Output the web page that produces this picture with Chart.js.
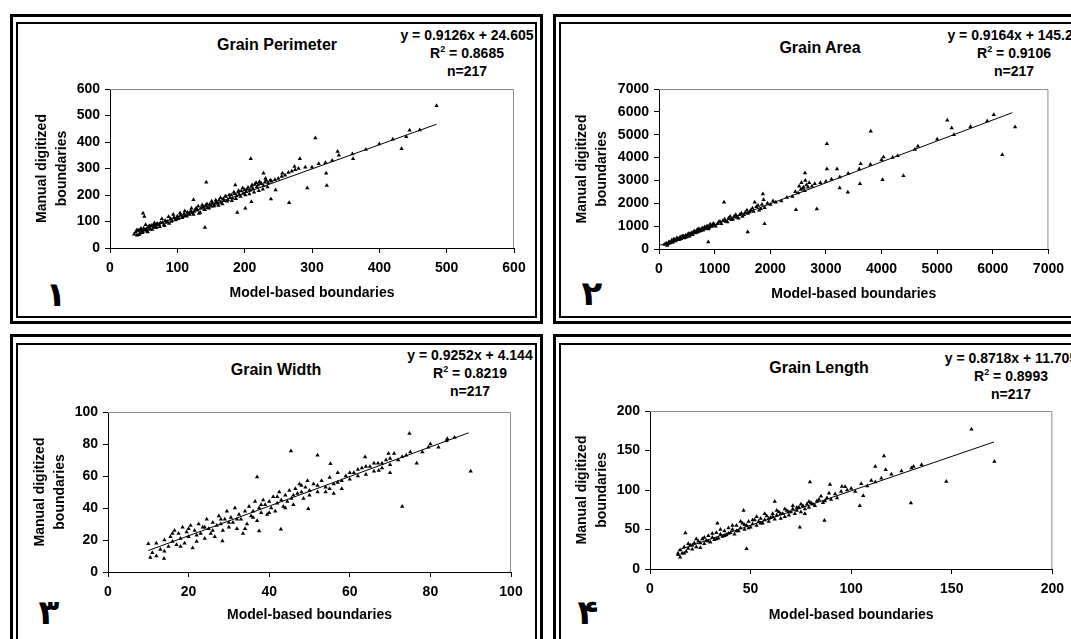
<!DOCTYPE html>
<html>
<head>
<meta charset="utf-8">
<title>Grain measurements</title>
<script src="https://cdn.jsdelivr.net/npm/chart.js@4.4.1/dist/chart.umd.min.js"></script>
<style>
    html, body { margin: 0; padding: 0; background: #fff; }
    body {
        position: relative;
        width: 1071px;
        height: 639px;
        overflow: hidden;
        font-family: 'Liberation Sans', Arial, sans-serif;
        color: #000;
    }
    .outer { position: absolute; border: 3px solid #000; box-sizing: border-box; }
    .inner { position: absolute; border: 2px solid #000; box-sizing: border-box; overflow: hidden; }
    .eq {
        position: absolute;
        width: 240px;
        text-align: center;
        white-space: nowrap;
        font-weight: bold;
        font-size: 14px;
        line-height: 18px;
    }
    .title {
        position: absolute;
        transform: translate(-50%, -50%);
        white-space: nowrap;
        font-weight: bold;
        font-size: 16px;
    }
    .tag {
        position: absolute;
        transform: translate(-50%, -50%);
        font-family: 'DejaVu Sans', sans-serif;
        font-weight: bold;
        font-size: 34px;
    }
    canvas { position: absolute; }
</style>
</head>
<body>

<!-- panel frames -->
<div class="outer" style="left:10px; top:14px; width:533px; height:310px;"></div>
<div class="inner" style="left:16px; top:22px; width:521px; height:296px;">
    <div class="eq" style="left:329px; top:2px;">y = 0.9126x + 24.605<br>R<sup style="font-size:9px; line-height:0">2</sup> = 0.8685<br>n=217</div>
</div>
<div class="outer" style="left:553px; top:14px; width:540px; height:310px;"></div>
<div class="inner" style="left:559px; top:22px; width:530px; height:296px;">
    <div class="eq" style="left:333px; top:2px;">y = 0.9164x + 145.27<br>R<sup style="font-size:9px; line-height:0">2</sup> = 0.9106<br>n=217</div>
</div>
<div class="outer" style="left:10px; top:334px; width:533px; height:330px;"></div>
<div class="inner" style="left:16px; top:343px; width:521px; height:320px;">
    <div class="eq" style="left:332px; top:1px;">y = 0.9252x + 4.144<br>R<sup style="font-size:9px; line-height:0">2</sup> = 0.8219<br>n=217</div>
</div>
<div class="outer" style="left:553px; top:334px; width:540px; height:330px;"></div>
<div class="inner" style="left:559px; top:343px; width:530px; height:320px;">
    <div class="eq" style="left:330px; top:4px;">y = 0.8718x + 11.705<br>R<sup style="font-size:9px; line-height:0">2</sup> = 0.8993<br>n=217</div>
</div>

<div class="title" style="left:277px; top:45px;">Grain Perimeter</div>
<div class="title" style="left:820px; top:48px;">Grain Area</div>
<div class="title" style="left:276px; top:370px;">Grain Width</div>
<div class="title" style="left:819px; top:368px;">Grain Length</div>

<div class="tag" style="left:56px; top:294px;">۱</div>
<div class="tag" style="left:592px; top:293px;">۲</div>
<div class="tag" style="left:49px; top:612px;">۳</div>
<div class="tag" style="left:588px; top:612px;">۴</div>

<canvas id="chart-perimeter" width="517" height="292" style="left:18px; top:24px;"></canvas>
<canvas id="chart-area" width="510" height="292" style="left:561px; top:24px;"></canvas>
<canvas id="chart-width" width="517" height="294" style="left:18px; top:345px;"></canvas>
<canvas id="chart-length" width="510" height="294" style="left:561px; top:345px;"></canvas>

<script>
    // ---- data: [model-based, manual digitized] ----

    const perimPoints = [
        [36,52],[38,60],[40,48],[42,66],[44,55],[45,70],[47,62],[48,58],[50,75],[52,68],
        [54,72],[55,64],[57,80],[58,74],[60,70],[62,85],[64,78],[65,90],[67,82],[68,76],
        [70,92],[72,88],[74,80],[75,95],[78,96],[80,88],[82,104],[85,100],[88,92],[90,110],
        [92,104],[95,115],[98,108],[100,120],[102,112],[105,125],[108,118],[110,128],[112,122],[115,135],
        [118,126],[120,140],[122,132],[125,138],[128,150],[130,142],[132,130],[135,150],[138,156],[140,146],
        [142,160],[145,152],[148,165],[150,158],[152,170],[155,162],[158,175],[160,168],[162,180],[165,172],
        [168,185],[170,178],[172,195],[175,182],[178,190],[180,200],[182,188],[185,205],[188,196],[190,210],
        [192,202],[195,215],[198,206],[200,220],[202,212],[205,228],[208,218],[210,232],[212,225],[215,240],
        [218,230],[220,238],[222,250],[225,242],[228,235],[230,248],[232,255],[235,245],[240,252],[245,258],
        [250,262],[255,270],[260,275],[265,285],[270,290],[275,295],[280,300],[290,305],[300,305],[310,318],
        [320,322],[330,330],[340,350],[360,355],[380,372],[400,392],[420,410],[440,420],[460,445],
        [40,68],[43,50],[46,74],[49,62],[53,88],[56,60],[59,84],[63,70],[66,94],[69,78],
        [73,90],[77,110],[81,84],[84,96],[87,118],[91,100],[94,126],[97,106],[101,110],[104,132],
        [107,114],[111,140],[114,120],[117,128],[121,150],[124,126],[127,146],[131,158],[134,134],[137,162],
        [141,144],[144,166],[147,150],[151,176],[154,158],[157,180],[161,160],[164,190],[167,166],[171,194],
        [174,176],[177,200],[181,178],[184,210],[187,186],[191,216],[194,194],[197,226],[201,200],[204,222],
        [207,204],[211,238],[214,210],[217,246],[221,216],[224,244],[227,222],[231,262],[234,230],[238,256],
        [485,537],[305,415],[433,375],[445,444],[209,337],[282,337],[338,364],[361,337],[321,282],[322,236],
        [293,226],[266,171],[239,185],[246,219],[228,282],[274,308],[256,282],[143,248],[124,182],[189,134],
        [201,150],[141,77],[51,119],[49,131],[210,175],[186,238]
    ];
    const perimTrend = [[35, 57], [485, 467]];
    const perimTicks = [0, 100, 200, 300, 400, 500, 600];

    const areaPoints = [
        [100,200],[150,150],[180,320],[200,260],[230,380],[250,300],[280,420],[300,350],[320,480],[350,400],
        [380,520],[400,450],[420,560],[450,480],[480,600],[500,520],[520,640],[550,560],[580,700],[600,620],
        [620,760],[650,700],[680,820],[700,740],[720,880],[750,800],[780,920],[800,850],[820,960],[850,900],
        [880,1000],[900,940],[920,1080],[950,980],[980,1120],[1000,1040],[1050,1100],[1100,1180],[1150,1240],[1200,1200],
        [1250,1350],[1300,1280],[1350,1420],[1400,1380],[1450,1500],[1500,1420],[1550,1600],[1600,1550],[1650,1700],[1700,1640],
        [1750,1850],[1800,1700],[1850,1950],[1900,1800],[1950,2000],[2000,1950],[2100,2050],[2200,2100],[2300,2250],[2400,2300],
        [2450,2500],[2500,2450],[2550,2600],[2600,2700],[2650,2800],[2700,2900],[2750,2750],[2800,2850],[2900,2900],[3000,2950],
        [3100,3050],[3250,3150],[3400,3300],[3600,3500],[3800,3700],[4000,3900],[4200,4000],[4600,4350],[5000,4800],[5300,5000],
        [5600,5350],[5900,5600],
        [130,250],[170,230],[220,300],[260,420],[290,360],[340,460],[370,420],[410,520],[440,560],[470,500],
        [510,580],[540,680],[570,620],[610,700],[640,780],[670,720],[700,860],[730,780],[760,880],[790,820],
        [830,920],[860,1000],[890,880],[930,1000],[960,1060],[1020,1000],[1080,1200],[1120,1100],[1180,1300],[1230,1180],
        [1280,1420],[1330,1300],[1380,1500],[1430,1350],[1480,1560],[1530,1500],[1580,1700],[1630,1620],[1680,1780],[1720,2050],
        [1780,1900],[1830,1760],[1880,2150],[2050,2100],[2520,2750],[2560,2900],[2580,2650],[2620,2550],[2680,2700],[2630,3000],
        [5182,5630],[6018,5877],[6400,5337],[6170,4127],[3806,5148],[3018,4608],[5261,5294],[4394,3208],[4018,3033],[3612,2858],
        [3394,2479],[3248,2669],[3200,3500],[3018,3500],[2836,1750],[2461,1721],[2624,3325],[1897,1108],[1594,744],[1170,2042],
        [1867,2406],[885,306],[3624,3733],[4036,4025],[4654,4492],[4291,4083]
    ];
    const areaTrend = [[20, 163], [6350, 5964]];
    const areaTicks = [0, 1000, 2000, 3000, 4000, 5000, 6000, 7000];

    const widthPoints = [
        [11,12],[12,18],[13,14],[14,20],[15,16],[15.5,22],[16,19],[16.5,26],[17,17],[17.5,24],
        [18,21],[18.5,28],[19,18],[19.5,25],[20,22],[20.5,29],[21,15],[21.5,26],[22,23],[22.5,30],
        [23,24],[23.5,28],[24,21],[24.5,33],[25,27],[25.5,24],[26,31],[26.5,22],[27,29],[27.5,35],
        [28,30],[28.5,26],[29,33],[29.5,38],[30,28],[30.5,34],[31,31],[31.5,40],[32,27],[32.5,36],
        [33,33],[33.5,24],[34,38],[34.5,30],[35,41],[35.5,35],[36,38],[36.5,44],[37,32],[37.5,40],
        [38,37],[38.5,45],[39,42],[39.5,36],[40,44],[40.5,40],[41,47],[41.5,38],[42,43],[42.5,50],
        [43,45],[43.5,41],[44,48],[44.5,44],[45,51],[45.5,46],[46,42],[46.5,52],[47,49],[47.5,55],
        [48,50],[48.5,46],[49,53],[49.5,57],[50,51],[51,55],[52,50],[53,57],[54,53],[55,59],
        [56,55],[57,62],[58,57],[59,60],[60,58],[61,62],[62,60],[63,65],[64,61],[65,66],
        [66,63],[67,68],[68,65],[69,70],[70,67],[72,70],[74,73],[78,75],[82,78],
        [12,10],[14,13],[16,24],[18,16],[20,27],[22,19],[24,28],[26,26],[28,33],[30,31],
        [32,33],[34,27],[36,34],[38,42],[40,37],[42,47],[44,40],[46,48],[48,54],[50,48],
        [52,54],[54,50],[55,52],[56,49],[57,56],[58,52],[60,62],[62,64],[64,66],[66,68],
        [68,68],[70,71],[71,74],[73,72],[75,75],[80,80],[84,82],[86,84],
        [74.8,86.5],[90,63],[73,41],[76.6,68],[45.4,75.6],[52,73],[49.7,39.6],[37,59.4],[42.9,26.7],[37.5,25.6],
        [28.4,19.4],[10.5,9],[10,17.7],[13.9,8.5],[55.2,67.7],[63.8,71.9],[69.6,74],[67.2,63.5],[84.2,83.3],[79.5,78],
        [70,62]
    ];
    const widthTrend = [[10, 13.4], [89.5, 87]];
    const widthTicks = [0, 20, 40, 60, 80, 100];

    const lengthPoints = [
        [14,18],[15,24],[16,20],[17,28],[18,22],[19,26],[20,30],[21,25],[22,33],[23,28],
        [24,35],[25,27],[26,38],[27,32],[28,36],[29,42],[30,34],[31,40],[32,37],[33,46],
        [34,39],[35,44],[36,41],[37,48],[38,43],[39,52],[40,46],[41,50],[42,44],[43,55],
        [44,48],[45,52],[46,58],[47,50],[48,55],[49,60],[50,53],[51,57],[52,62],[53,55],
        [54,60],[55,64],[56,58],[57,62],[58,67],[59,60],[60,65],[61,70],[62,63],[63,68],
        [64,72],[65,64],[66,70],[67,66],[68,74],[69,68],[70,72],[71,76],[72,70],[73,74],
        [74,78],[75,72],[76,80],[77,76],[78,82],[79,78],[80,84],[82,80],[84,88],[86,84],
        [88,90],[90,88],[92,95],[95,98],[98,100],[100,102],[105,108],[110,112],[115,115],[120,120],
        [125,124],[130,128],[135,132],
        [15,15],[17,20],[19,32],[21,30],[23,38],[25,33],[27,40],[29,35],[31,45],[33,38],
        [35,50],[37,42],[39,45],[41,55],[43,48],[45,60],[47,56],[49,52],[51,62],[53,66],
        [55,58],[57,70],[59,64],[61,66],[63,74],[65,70],[67,76],[69,72],[71,80],[73,78],
        [75,82],[77,70],[79,85],[81,82],[83,86],[85,92],[87,86],[89,96],[93,90],[97,104],
        [102,98],[108,105],[112,110],
        [159.8,176.8],[171.2,136],[116.3,143],[147.3,110.7],[129.7,83.4],[104.3,80],[86.7,61.5],[74.5,53],[48,25.7],[79.5,110],
        [89.5,107],[95.4,104.4],[106,92.6],[112,129.7],[117.2,125.5],[17.6,45.5],[13.9,20],[33.5,58],[46.5,74],[62,85.5],
        [131,129.7]
    ];
    const lengthTrend = [[14, 23.9], [171, 160.8]];
    const lengthTicks = [0, 50, 100, 150, 200];

    const xTitle = 'Model-based boundaries';
    const yTitle = ['Manual digitized', 'boundaries'];

    // ---- layout: canvas origin and plot rectangle, in page pixels ----
    const frames = {
        perimeter: { ox: 18,  oy: 24,  l: 110, t: 89,  r: 514,  b: 248, yTitleX: 42,  xTitleY: 293 },
        area:      { ox: 561, oy: 24,  l: 659, t: 89,  r: 1051, b: 249, yTitleX: 582, xTitleY: 294 },
        width:     { ox: 18,  oy: 345, l: 108, t: 412, r: 511,  b: 572, yTitleX: 40,  xTitleY: 615 },
        length:    { ox: 561, oy: 345, l: 650, t: 411, r: 1055, b: 569, yTitleX: 582, xTitleY: 615 }
    };

    const X_AXIS_H = 55;
    const FONT = 'Liberation Sans';

    // thin grey line along the top and right of the plot area, like the old Excel frame
    const plotFrame = {
        id: 'plotFrame',
        beforeDatasetsDraw(chart) {
            const a = chart.chartArea;
            const ctx = chart.ctx;
            ctx.save();
            ctx.strokeStyle = '#8c8c8c';
            ctx.lineWidth = 1;
            ctx.beginPath();
            ctx.moveTo(a.left, a.top + 0.5);
            ctx.lineTo(a.right - 0.5, a.top + 0.5);
            ctx.lineTo(a.right - 0.5, a.bottom);
            ctx.stroke();
            ctx.restore();
        }
    };

    function toXY(pairs) {
        return pairs.map(p => ({ x: p[0], y: p[1] }));
    }

    function axisTicks(values) {
        return function(axis) {
            axis.ticks = values.map(v => ({ value: v }));
        };
    }

    function buildScatter(id, points, trend, ticks, f) {
        const canvas = document.getElementById(id);
        const w = canvas.width, h = canvas.height;
        const yTitleLine = 20;
        const xTitleLine = 14 * 1.2;

        return new Chart(canvas, {
            type: 'scatter',
            data: {
                datasets: [{
                    data: toXY(points),
                    pointStyle: 'triangle',
                    pointRadius: 2.5,
                    backgroundColor: '#000',
                    borderColor: '#000',
                    borderWidth: 0
                }, {
                    data: toXY(trend),
                    showLine: true,
                    pointRadius: 0,
                    borderColor: '#000',
                    borderWidth: 1
                }]
            },
            options: {
                responsive: false,
                animation: false,
                devicePixelRatio: 1,
                layout: {
                    padding: {
                        left: 0,
                        top: f.t - f.oy,
                        right: f.ox + w - f.r,
                        bottom: f.oy + h - f.b - X_AXIS_H
                    }
                },
                plugins: {
                    legend: { display: false },
                    tooltip: { enabled: false }
                },
                scales: {
                    x: {
                        type: 'linear',
                        min: ticks[0],
                        max: ticks[ticks.length - 1],
                        afterBuildTicks: axisTicks(ticks),
                        afterFit: axis => { axis.height = X_AXIS_H; },
                        border: { color: '#000', width: 1 },
                        grid: { drawOnChartArea: false, color: '#000', tickLength: 5 },
                        ticks: {
                            autoSkip: false,
                            maxRotation: 0,
                            padding: 7,
                            color: '#000',
                            font: { family: FONT, size: 14, weight: 'bold' },
                            callback: v => String(v)
                        },
                        title: {
                            display: true,
                            text: xTitle,
                            color: '#000',
                            font: { family: FONT, size: 14, weight: 'bold', lineHeight: 1.2 },
                            padding: { top: 0, bottom: Math.max(0, f.b + X_AXIS_H - f.xTitleY - xTitleLine / 2) }
                        }
                    },
                    y: {
                        type: 'linear',
                        min: ticks[0],
                        max: ticks[ticks.length - 1],
                        afterBuildTicks: axisTicks(ticks),
                        afterFit: axis => { axis.width = f.l - f.ox; },
                        border: { color: '#000', width: 1 },
                        grid: { drawOnChartArea: false, color: '#000', tickLength: 5 },
                        ticks: {
                            padding: 5,
                            color: '#000',
                            font: { family: FONT, size: 14, weight: 'bold' },
                            callback: v => String(v)
                        },
                        title: {
                            display: true,
                            text: yTitle,
                            color: '#000',
                            font: { family: FONT, size: 14, weight: 'bold', lineHeight: yTitleLine / 14 },
                            padding: { top: f.yTitleX - f.ox - yTitleLine / 2, bottom: 0 }
                        }
                    }
                }
            },
            plugins: [plotFrame]
        });
    }

    buildScatter('chart-perimeter', perimPoints, perimTrend, perimTicks, frames.perimeter);
    buildScatter('chart-area', areaPoints, areaTrend, areaTicks, frames.area);
    buildScatter('chart-width', widthPoints, widthTrend, widthTicks, frames.width);
    buildScatter('chart-length', lengthPoints, lengthTrend, lengthTicks, frames.length);
</script>
</body>
</html>
